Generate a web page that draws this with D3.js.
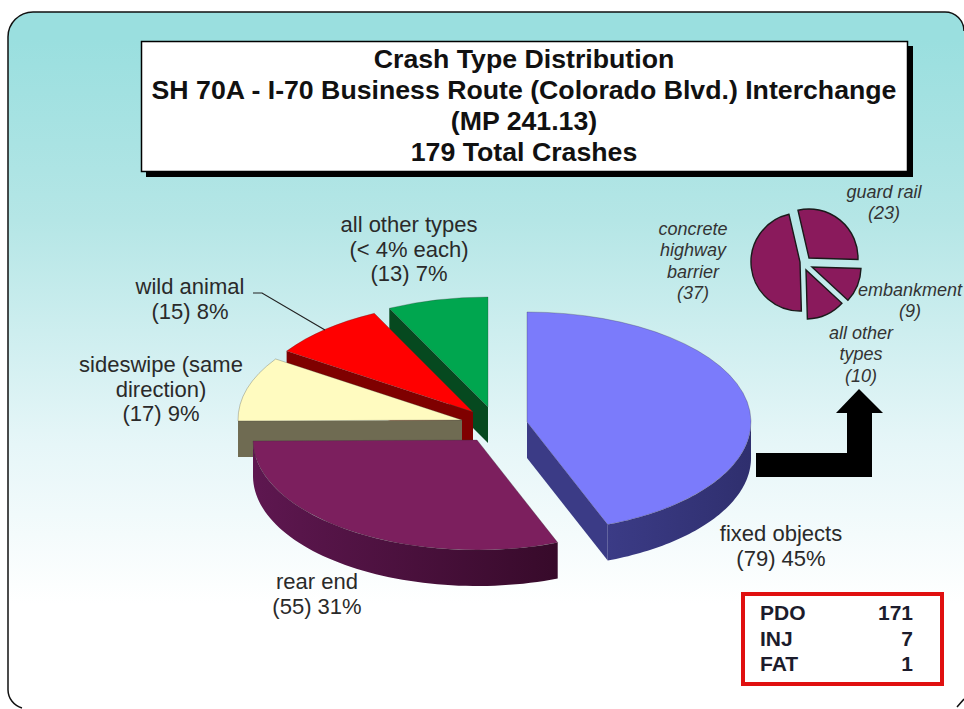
<!DOCTYPE html>
<html lang="en">
<head>
  <meta charset="UTF-8" />
  <title>Crash Type Distribution</title>
  <script src="https://cdn.jsdelivr.net/npm/d3@7"></script>
  <style>
    html, body { margin: 0; padding: 0; background: #fff; overflow: hidden; }
    svg { display: block; }
    text { font-family: "Liberation Sans", Arial, sans-serif; }
  </style>
</head>
<body>
  <script>
    // ------ Data ------
    const titleLines = [
      "Crash Type Distribution",
      "SH 70A - I-70 Business Route (Colorado Blvd.) Interchange",
      "(MP 241.13)",
      "179 Total Crashes"
    ];
    const crashTypes = ["fixed objects", "rear end", "sideswipe", "wild animal", "all other types"];
    const crashCounts = [79, 55, 17, 15, 13];
    const crashLabels = [
      ["fixed objects", "(79) 45%"],
      ["rear end", "(55) 31%"],
      ["sideswipe (same", "direction)", "(17) 9%"],
      ["wild animal", "(15) 8%"],
      ["all other types", "(< 4% each)", "(13) 7%"]
    ];
    const objectTypes = ["guard rail", "embankment", "all other types", "concrete highway barrier"];
    const objectCounts = [23, 9, 10, 37];
    const objectLabels = [
      ["guard rail", "(23)"],
      ["embankment", "(9)"],
      ["all other", "types", "(10)"],
      ["concrete", "highway", "barrier", "(37)"]
    ];
    const severityNames = ["PDO", "INJ", "FAT"];
    const severityCounts = [171, 7, 1];

    // ------ Layout and styling ------
    const width = 964, height = 709;
    const rx = 224, ry = 110, depth = 36;
    // slice apex, top colour, wall colours (light, dark), label anchor
    const mainLayout = [
      { cx: 527, cy: 422, top: "#7b7bfb", wall: ["#3b3b86", "#2f2f6e"], labelX: 781, labelY: 541 },
      { cx: 477, cy: 440, top: "#7c1f5e", wall: ["#5e1750", "#370a2a"], labelX: 317, labelY: 589 },
      { cx: 462, cy: 420, top: "#fffbc0", wall: ["#6f6b52", "#6f6b52"], labelX: 161, labelY: 372 },
      { cx: 473, cy: 412, top: "#ff0000", wall: ["#7f0000", "#7f0000"], labelX: 190, labelY: 294 },
      { cx: 488, cy: 407, top: "#00a64f", wall: ["#06491f", "#06491f"], labelX: 409, labelY: 232 }
    ];
    const insetRadius = 49;
    const insetLayout = [
      { cx: 809, cy: 258, labelX: 884, labelY: 198 },
      { cx: 812, cy: 267, labelX: 910, labelY: 296 },
      { cx: 806, cy: 270, labelX: 861, labelY: 339 },
      { cx: 800, cy: 262, labelX: 693, labelY: 235 }
    ];

    const svg = d3.select("body").append("svg")
      .attr("width", width)
      .attr("height", height);
    const defs = svg.append("defs");

    // ------ Panel background ------
    const bg = defs.append("linearGradient").attr("id", "panel-fill")
      .attr("x1", 0).attr("y1", 0).attr("x2", 0).attr("y2", 1);
    bg.append("stop").attr("offset", 0.04).attr("stop-color", "#9adfdf");
    bg.append("stop").attr("offset", 0.3).attr("stop-color", "#b5e6e6");
    bg.append("stop").attr("offset", 0.62).attr("stop-color", "#e6f6f8");
    bg.append("stop").attr("offset", 0.85).attr("stop-color", "#ffffff");
    svg.append("path")
      .attr("d", "M8,690 V37 A25,25 0 0 1 33,12 H945 A19,19 0 0 1 964,31 V697 L952,709 H27 A19,19 0 0 1 8,690 Z")
      .attr("fill", "url(#panel-fill)");
    // outline stops where the right edge fades out
    svg.append("path")
      .attr("d", "M22,708 A19,19 0 0 1 8,690 V37 A25,25 0 0 1 33,12 H945 A19,19 0 0 1 964,31 M964,699 L957,707")
      .attr("fill", "none")
      .attr("stroke", "#111")
      .attr("stroke-width", 1.5);

    // ------ Title box ------
    svg.append("rect")
      .attr("x", 146).attr("y", 46).attr("width", 767).attr("height", 131)
      .attr("fill", "#000");
    svg.append("rect")
      .attr("x", 141.5).attr("y", 41.5).attr("width", 766).attr("height", 130)
      .attr("fill", "#fff").attr("stroke", "#000").attr("stroke-width", 1.5);
    svg.append("g").selectAll("text").data(titleLines).join("text")
      .attr("x", 524)
      .attr("y", (d, i) => 68 + i * 31)
      .attr("text-anchor", "middle")
      .attr("font-size", 26.7)
      .attr("font-weight", "bold")
      .attr("fill", "#111")
      .text(d => d);

    // ------ Pie helpers ------
    // The tilted top face is a circular d3.arc squeezed vertically.
    const arc = d3.arc().innerRadius(0).outerRadius(rx);
    const flat = ry / rx;
    const onRim = (s, a) => [s.cx + rx * Math.sin(a), s.cy - ry * Math.cos(a)];

    const mainPie = d3.pie().sort(null).value(d => d)(crashCounts);
    const TAU = Math.PI * 2;

    function wallFace(s, a) {
      const [x, y] = onRim(s, a);
      return `M${s.cx},${s.cy}L${x},${y}L${x},${y + depth}L${s.cx},${s.cy + depth}Z`;
    }

    function outerWall(s, a0, a1) {
      const angles = d3.range(0, 61).map(i => a0 + (a1 - a0) * i / 60);
      const upper = angles.map(a => onRim(s, a));
      const lower = upper.map(([x, y]) => [x, y + depth]).reverse();
      return d3.line()(upper.concat(lower)) + "Z";
    }

    const slices = svg.append("g");
    // back slices first, the front two last
    d3.range(mainPie.length - 1, -1, -1).forEach(i => {
      const d = mainPie[i], s = mainLayout[i];
      const g = slices.append("g").attr("class", crashTypes[i].replace(/\s/g, "-"));

      // outer rim can only be seen on the front half of the ellipse
      const a0 = Math.max(d.startAngle, Math.PI / 2);
      const a1 = Math.min(d.endAngle, Math.PI * 1.5);
      if (a1 > a0) {
        const grad = defs.append("linearGradient").attr("id", "wall-" + i)
          .attr("gradientUnits", "userSpaceOnUse")
          .attr("x1", onRim(s, a1)[0]).attr("y1", 0)
          .attr("x2", onRim(s, a0)[0]).attr("y2", 0);
        grad.append("stop").attr("offset", 0).attr("stop-color", s.wall[0]);
        grad.append("stop").attr("offset", 1).attr("stop-color", s.wall[1]);
        g.append("path").attr("d", outerWall(s, a0, a1)).attr("fill", `url(#wall-${i})`);
      }
      // flat cut faces that turn toward the viewer
      if (Math.sin(d.startAngle) < 0) {
        g.append("path").attr("d", wallFace(s, d.startAngle)).attr("fill", s.wall[0]);
      }
      if (Math.sin(d.endAngle) > 0) {
        g.append("path").attr("d", wallFace(s, d.endAngle)).attr("fill", s.wall[0]);
      }
      g.append("path")
        .attr("d", arc(d))
        .attr("transform", `translate(${s.cx},${s.cy}) scale(1,${flat})`)
        .attr("fill", s.top)
        .attr("stroke", "#333")
        .attr("stroke-opacity", 0.35)
        .attr("stroke-width", 0.8)
        .attr("vector-effect", "non-scaling-stroke");
    });

    // ------ Main labels ------
    crashLabels.forEach((lines, i) => {
      const s = mainLayout[i];
      svg.append("text")
        .attr("text-anchor", "middle")
        .attr("font-size", 22)
        .attr("fill", "#2a2a2a")
        .selectAll("tspan").data(lines).join("tspan")
        .attr("x", s.labelX)
        .attr("y", (d, j) => s.labelY + j * (lines.length === 3 ? 24.5 : 25))
        .text(d => d);
    });
    // leader from the wild animal label
    svg.append("path")
      .attr("d", "M253,293 H262 L325,330")
      .attr("fill", "none")
      .attr("stroke", "#222")
      .attr("stroke-width", 1.2);

    // ------ Bent arrow to the breakdown pie ------
    svg.append("path")
      .attr("d", "M756,453 H847 V413 H836 L859,389 L883,413 H872 V477 H756 Z")
      .attr("fill", "#000");

    // ------ Fixed objects breakdown pie ------
    const insetPie = d3.pie().sort(null).value(d => d)
      .startAngle(-13 * Math.PI / 180)
      .endAngle(TAU - 13 * Math.PI / 180)(objectCounts);
    const insetArc = d3.arc().innerRadius(0).outerRadius(insetRadius);
    svg.append("g").selectAll("path").data(insetPie).join("path")
      .attr("d", insetArc)
      .attr("class", (d, i) => objectTypes[i].replace(/\s/g, "-"))
      .attr("transform", (d, i) => `translate(${insetLayout[i].cx},${insetLayout[i].cy})`)
      .attr("fill", "#8a1a5c")
      .attr("stroke", "#1a1a1a")
      .attr("stroke-width", 1.4);

    objectLabels.forEach((lines, i) => {
      const s = insetLayout[i];
      svg.append("text")
        .attr("text-anchor", "middle")
        .attr("font-size", 18)
        .attr("font-style", "italic")
        .attr("fill", "#333")
        .selectAll("tspan").data(lines).join("tspan")
        .attr("x", s.labelX)
        .attr("y", (d, j) => s.labelY + j * 21.3)
        .text(d => d);
    });

    // ------ Severity box ------
    svg.append("rect")
      .attr("x", 743).attr("y", 594).attr("width", 199).attr("height", 90)
      .attr("fill", "#fff")
      .attr("stroke", "#e01010")
      .attr("stroke-width", 4);
    const sevRow = d3.scaleBand().domain(severityNames).range([602, 679]);
    const sev = svg.append("g")
      .attr("font-size", 21)
      .attr("font-weight", "bold")
      .attr("fill", "#1c1c2c");
    sev.selectAll(".sev-name").data(severityNames).join("text")
      .attr("class", "sev-name")
      .attr("x", 760)
      .attr("y", d => sevRow(d) + 18)
      .text(d => d);
    sev.selectAll(".sev-count").data(severityCounts).join("text")
      .attr("class", "sev-count")
      .attr("x", 913)
      .attr("y", (d, i) => sevRow(severityNames[i]) + 18)
      .attr("text-anchor", "end")
      .text(d => d);
  </script>
</body>
</html>
